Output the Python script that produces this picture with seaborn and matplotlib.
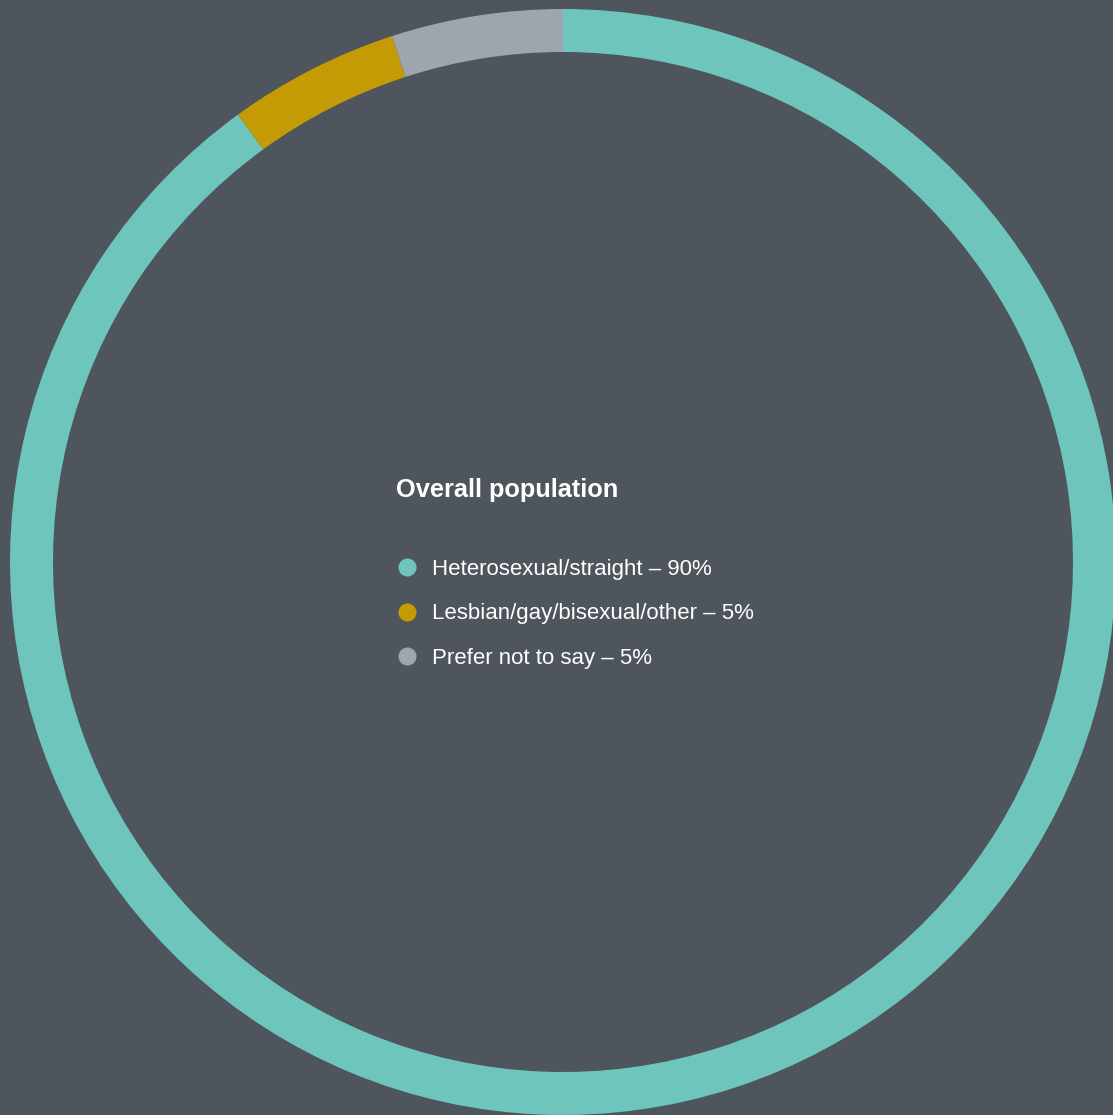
import matplotlib
matplotlib.use('Agg')
import matplotlib.pyplot as plt
from matplotlib.lines import Line2D
import seaborn as sns

# dati
categories = ['Heterosexual/straight', 'Lesbian/gay/bisexual/other', 'Prefer not to say']
shares = [90, 5, 5]
colors = ['#6ec5bc', '#c49b05', '#9ea5ad']
title = 'Overall population'
bg = '#4e555c'

sns.set_theme(style='white')
plt.rcParams['font.family'] = ['Liberation Sans', 'DejaVu Sans']

fig = plt.figure(figsize=(11.13, 11.15), dpi=100, facecolor=bg)
ax = fig.add_axes([0, 0, 1, 1])
ax.set_facecolor(bg)

# un'unità = un pixel, centro dell'anello a (563, 562) dall'alto a sinistra
ax.pie(shares, colors=colors, startangle=90, counterclock=False, radius=553,
       wedgeprops=dict(width=43, linewidth=0))
ax.set_xlim(-563, 1113 - 563)
ax.set_ylim(-(1115 - 562), 562)
ax.set_aspect('auto')
ax.axis('off')

handles = [Line2D([], [], marker='o', linestyle='none', markersize=13,
                  markerfacecolor=c, markeredgewidth=0) for c in colors]
labels = [f'{c} – {s}%' for c, s in zip(categories, shares)]
leg = ax.legend(handles, labels, loc='upper left', bbox_to_anchor=(396 / 1113, 1 - 478 / 1115),
                frameon=False, borderpad=0, borderaxespad=0, fontsize=16,
                handlelength=1.0, handletextpad=0.63, labelspacing=1.06,
                title=title, title_fontproperties={'size': 18.3, 'weight': 'bold'},
                alignment='left')
leg._legend_box.sep = 41
for t in leg.get_texts():
    t.set_color('white')
leg.get_title().set_color('white')

fig.savefig('out.png', dpi=100, facecolor=bg)
